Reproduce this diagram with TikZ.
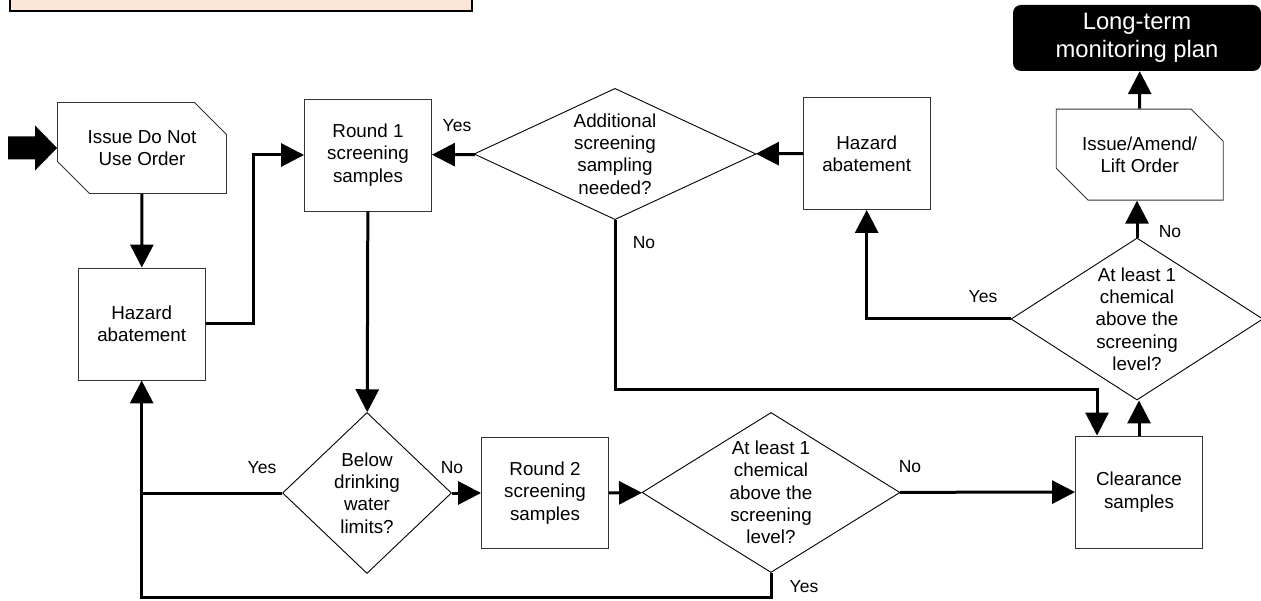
\documentclass[tikz,border=0pt]{standalone}
\usepackage{fontspec}
\setmainfont{Liberation Sans}
\usepackage{xcolor}
\usetikzlibrary{shapes.geometric, shapes.misc, arrows.meta, positioning}
\definecolor{peach}{HTML}{FBE5D6}

\begin{document}
\begin{tikzpicture}[
    % pixel-like units, y pointing down
    x=1pt, y=-1pt,
    base/.style={align=center, font=\fontsize{18.8}{22.3}\selectfont, fill=white, draw=black!80, line width=0.9pt},
    process/.style={base, rectangle, minimum width=127pt, minimum height=112pt},
    orderbox/.style={base, chamfered rectangle, chamfered rectangle corners={north east, south west},
        chamfered rectangle xsep=16pt, chamfered rectangle ysep=16pt, minimum width=169pt, minimum height=91pt},
    decision/.style={base, diamond, draw=black, inner sep=-8pt},
    terminal/.style={rectangle, rounded corners=8pt, fill=black, text=white, align=center,
        font=\fontsize{23.8}{28}\selectfont, minimum width=248pt, minimum height=66pt},
    answer/.style={font=\fontsize{17.5}{20}\selectfont, inner sep=0pt},
    arrow/.style={line width=3pt, -{Triangle[length=23pt, width=23pt]}},
    link/.style={line width=3pt}
]
\useasboundingbox (0,0) rectangle (1261,601);

%% banner cut by the page
\node (banner) [rectangle, fill=peach, draw=black, line width=2.5pt, minimum width=462pt,
    minimum height=60pt, anchor=south west] at (8.5,12.5) {};

%% left column
\node (issue) [orderbox] at (142,148) {Issue Do Not\\Use Order};
\node (haz1) [process] at (141.7,324) {Hazard\\abatement};
\node (round1) [process] at (368,155) {Round 1\\screening\\samples};

%% top row
\node (add) [decision, minimum width=282pt, minimum height=123pt] at (615,154) {Additional\\screening\\sampling\\needed?};
\node (haz2) [process] at (866.7,153.5) {Hazard\\abatement};

%% bottom row
\node (below) [decision, minimum width=169pt, minimum height=161pt] at (367,493) {Below\\drinking\\water\\limits?};
\node (round2) [process, minimum height=111pt] at (545,493) {Round 2\\screening\\samples};
\node (chem2) [decision, minimum width=258pt, minimum height=160pt] at (771,492.5) {At least 1\\chemical\\above the\\screening\\level?};
\node (clear) [process] at (1139,492) {Clearance\\samples};

%% right column
\node (chem1) [decision, minimum width=252pt, minimum height=162pt] at (1137,319) {At least 1\\chemical\\above the\\screening\\level?};
\node (lift) [orderbox, minimum width=167pt] at (1139.7,154.7) {Issue/Amend/\\Lift Order};
\node (plan) [terminal] at (1137,38) {Long-term\\monitoring plan};

%% answers
\node (yes1) [answer] at (457,126) {Yes};
\node (no1) [answer] at (644,243) {No};
\node (yes2) [answer] at (983,297) {Yes};
\node (no2) [answer] at (1170,232) {No};
\node (yes3) [answer] at (262,468) {Yes};
\node (no3) [answer] at (452,468) {No};
\node (no4) [answer] at (910,467) {No};
\node (yes4) [answer] at (804,587) {Yes};

%% entry arrow
\fill (issue.west) -- ++(-22,-22.5) -- ++(0,11) -- ++(-27,0) -- ++(0,23) -- ++(27,0) -- ++(0,11) -- cycle;

%% connectors
\coordinate (nobend) at (615,390);
\coordinate (yesbend) at (771,597);
\draw [arrow] (issue) -- (haz1);
\draw [arrow] (haz1.east) -- ++(48,0) |- (round1.west);
\draw [arrow] (round1) -- (below);
\draw [arrow] (below) -- (round2);
\draw [arrow] (round2) -- (chem2);
\draw [arrow] (chem2) -- (clear);
\draw [arrow] (chem2.south) -- (yesbend) -| (haz1.south);
\draw [link] (below.west) -- (haz1.south |- below.west);
\draw [arrow] (add) -- (round1);
\draw [arrow] (haz2) -- (add);
\draw [arrow] (add.south) -- (nobend) -| ([xshift=-42pt]clear.north);
\draw [arrow] (clear.north) -- (clear.north |- chem1.south);
\draw [arrow] (chem1.north) -- (lift.south -| chem1.north);
\draw [arrow] (chem1.west) -| (haz2.south);
\draw [arrow] (lift) -- (lift.north |- plan.south);

\end{tikzpicture}
\end{document}
